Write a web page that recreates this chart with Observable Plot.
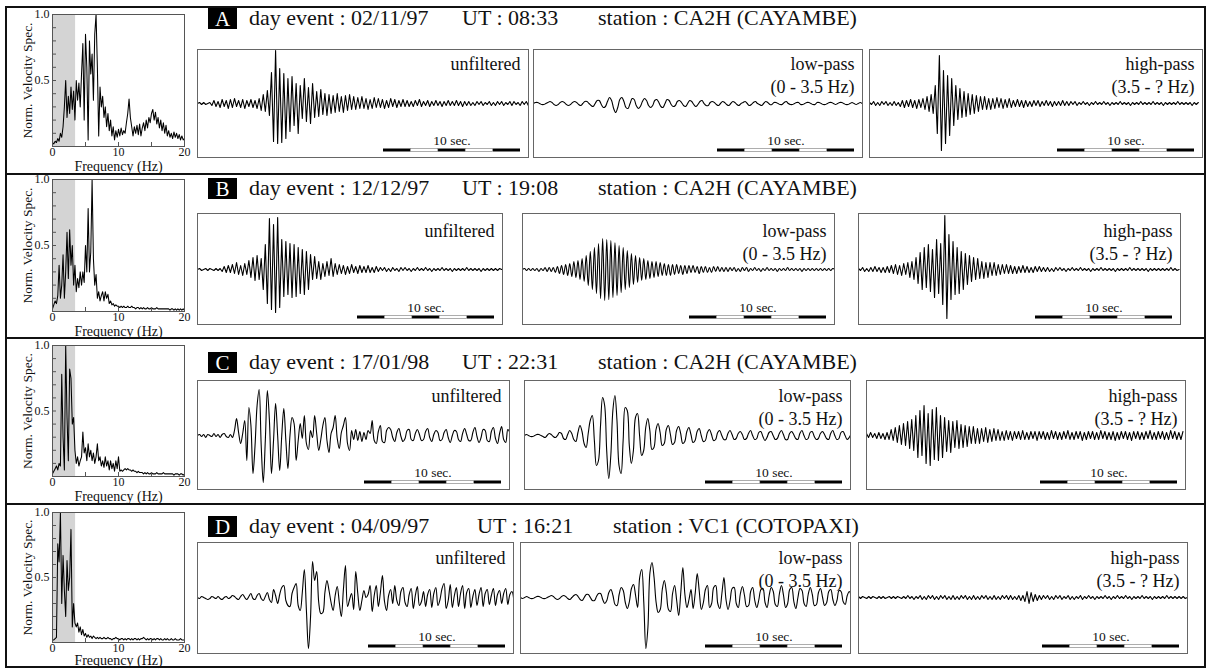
<!DOCTYPE html>
<html><head><meta charset="utf-8">
<script src="https://cdn.jsdelivr.net/npm/d3@7"></script>
<script src="https://cdn.jsdelivr.net/npm/@observablehq/plot@0.6"></script>
<style>
body{margin:0;background:#fff;}
#fig{position:relative;width:1207px;height:669px;overflow:hidden;font-family:"Liberation Serif","Times New Roman",serif;color:#111;}
.abs{position:absolute;}
.hline{position:absolute;background:#111;}
.lab{position:absolute;background:#000;color:#fff;text-align:center;font-size:21px;}
.htxt{position:absolute;font-size:22px;white-space:pre;}
svg{overflow:visible;}
</style></head><body><div id="fig"></div>
<script>
// ---------------- DATA ----------------
const eventLetters = ["A","B","C","D"];
const eventDays = ["02/11/97","12/12/97","17/01/98","04/09/97"];
const eventUT = ["08:33","19:08","22:31","16:21"];
const eventStations = ["CA2H (CAYAMBE)","CA2H (CAYAMBE)","CA2H (CAYAMBE)","VC1 (COTOPAXI)"];
const boxLabels = [["unfiltered"],["low-pass","(0 - 3.5 Hz)"],["high-pass","(3.5 - ? Hz)"]];

// spectra: normalized velocity spectrum in percent, sampled every specStep Hz from 0 to 20 Hz
const specStep = 0.2;
const specBand = [[0, 3.5]];
const specXTicks = [0, 10, 20];
const specXMinor = [5, 10, 15];
const specYTicks = [50, 100];
const specYMinor = [10,20,30,40,50,60,70,80,90];
const specA = [3,2,4,3,6,4,10,7,15,30,50,22,38,25,45,28,42,20,50,35,48,30,55,78,20,85,60,5,80,55,70,35,85,100,60,8,45,30,38,22,30,15,25,12,20,8,15,5,12,7,13,8,14,9,12,10,18,25,36,22,15,8,15,10,16,9,17,8,14,18,12,20,14,22,18,25,28,20,26,17,22,14,20,12,18,10,16,8,12,7,10,6,11,7,10,6,9,5,8,5,6];
const specB = [2,5,8,6,12,35,10,20,43,10,30,60,25,62,35,50,20,35,15,25,18,30,20,30,22,50,30,78,30,45,100,40,20,28,10,15,8,12,15,8,15,10,13,6,8,5,6,4,5,4,4,3,4,3,4,3,3,4,3,3,4,3,3,2,3,3,2,3,2,3,2,2,3,2,2,3,2,2,2,3,2,2,2,2,2,2,2,2,2,1,2,2,1,2,1,2,1,2,1,2,1];
const specC = [2,4,6,8,5,10,8,78,30,5,100,45,12,82,75,40,45,20,10,15,8,12,15,34,18,22,12,25,15,20,12,18,10,15,25,12,15,8,12,7,15,8,12,5,12,6,10,4,12,6,15,4,5,4,5,6,5,6,5,5,4,5,4,4,3,4,3,3,3,2,3,2,3,2,2,3,2,2,2,3,2,2,2,2,3,2,2,2,2,2,2,2,1,2,2,2,1,2,2,1,2];
const specD = [2,2,3,4,76,62,100,30,67,40,20,63,40,50,87,12,30,15,12,15,8,12,6,10,5,7,4,6,4,5,3,5,4,3,4,3,4,3,3,4,3,3,4,3,3,2,3,3,4,3,3,2,3,3,2,3,2,3,3,2,3,2,3,3,2,3,2,3,3,4,3,2,3,2,3,3,2,3,2,3,3,2,3,2,2,3,2,3,2,2,3,2,2,3,2,2,2,3,2,2,2];

// seismograms: ground velocity (relative counts), one sample every dt seconds
const dt = 0.15;
const scaleBarTimes = [0, 2, 4, 6, 8, 10];
const traceA1 = [0,1,-1,1,-1,0,1,
 -2,3,-3,2,-4,4,-3,3,-5,4,-4,5,-3,3,-4,4,-5,3,-3,4,-4,3,-5,5,
 -7,9,-8,13,-12,
 31,-38,53,-40,35,-39,30,-35,25,-28,27,-22,20,-30,
 18,-15,25,-18,16,-20,20,-14,
 12,-13,14,-11,10,-12,9,-10,8,-9,10,-8,7,-9,8,-7,9,-6,7,
 -6,6,-5,7,-5,5,-6,4,-5,6,-4,5,-4,4,-5,3,-4,5,-3,4,-4,3,-3,4,-3,
 3,-3,2,-3,3,-2,4,-3,2,-2,3,-3,2,-2,3,-2,2,-3,2,-2,3,-2,2,-2,3,-2,2,-3,2,-2,
 2,-2,1,-2,2,-1,2,-2,1,-1,2,-2,1,-2,2,-1,2,-2,1,-1,2,-2,2,-1,1,-2,2,-1,2,-2,1];
const traceA2 = [0,1,1,0,-1,-1,0,1,2,1,-1,-2,-1,1,2,1,-1,-2,-1,1,2,1,-1,-2,0,2,2,0,
 -2,-3,0,3,3,-1,-4,
 -3,2,6,3,-5,-9,-4,4,
 6,2,-4,-5,0,5,4,-2,-5,-3,
 2,5,3,-2,-4,-2,3,4,1,-3,-4,0,4,
 3,-1,-3,-2,2,3,1,-2,-3,0,3,2,-1,-3,-1,2,3,0,-2,-2,1,2,1,-1,-2,
 0,2,1,-1,-2,0,2,1,-1,-2,0,1,2,0,-2,-1,1,2,0,-1,-2,0,2,1,-1,-1,1,1,0,-1,-1,1,2,0,-1,-1,0,1,1,-1,-1,0,1,1,0,-1,-1,1,1,0,-1,-1,0,1,1,0,-1,0,1,1,0,-1,-1,0,1,0,-1,0,1,0];
const traceA3 = [1,-1,2,-2,1,-2,2,-1,2,-2,1,-2,2,-2,1,
 -3,3,-4,3,-3,4,-4,3,-5,4,-4,5,-6,
 7,-8,9,-10,
 18,-30,48,-47,33,-40,28,-32,25,-22,18,
 -16,15,-14,12,-13,10,-11,9,-10,8,
 -8,7,-6,7,-6,5,-6,5,-5,6,-4,5,-5,4,-4,5,-4,3,
 -3,4,-3,3,-4,3,-3,2,-3,3,-2,3,-3,2,-2,3,-2,2,-3,2,-2,2,-2,3,-2,2,-2,2,-1,2,
 -2,1,-1,2,-1,1,-2,1,-1,2,-1,1,-1,2,-1,1,-2,1,-1,1,-1,2,-1,1,-1,1,-2,1,-1,1,-1,2,-1,1,-1,1,-1,2,-1,1,-1,1,-2,1,-1,1,-1,1,-1,2,-1,1,-1,1,-1,1,-2,1,-1,1];
const traceB1 = [0,1,-1,0,1,-1,1,0,-1,1,-1,1,
 -2,3,-3,4,-3,5,-4,7,-5,4,-6,6,-5,
 9,-8,12,-11,14,-10,11,
 -20,25,-34,
 51,-40,45,
 -43,52,-38,
 30,-27,28,-25,26,
 -28,25,-27,
 22,-24,20,-25,18,-20,15,
 -10,13,-9,8,-10,6,
 -7,8,-6,11,-7,6,-5,
 5,-4,4,-5,3,-4,5,-3,3,-4,4,-3,3,-3,4,-3,2,-3,3,
 -2,2,-1,2,-2,1,-2,2,-1,1,-2,2,-1,2,-1,1,-2,1,-1,2,-1,1,-1,2,-1,1,-2,1,-1,1,-1,2,-1,1,-1,1,-2,1,-1,1,-1,1,-1,2,-1,1,-1,1,-1,1,-2,1,-1,1,-1,1,-1,1,-1,1,0];
const traceB2 = [0,1,-1,1,-1,1,-1,1,-2,1,-1,2,-2,2,-2,2,
 -3,3,-4,4,-5,5,-6,6,-7,8,-8,9,-10,11,-12,
 14,-16,18,-20,22,-24,26,
 -29,31,-31,30,-30,29,-28,27,-26,
 24,-23,22,-20,19,-18,16,-15,14,-13,
 12,-11,11,-10,9,-9,8,-8,8,-7,
 7,-6,6,-6,5,-6,5,-5,5,-4,4,-5,4,-4,4,-3,4,-3,3,-4,3,-3,3,-3,2,-3,3,-2,3,
 -2,2,-2,2,-2,2,-1,2,-2,1,-2,2,-1,2,-2,1,-1,2,-1,1,-2,1,-1,2,-1,1,-1,1,-2,1,-1,1,-1,2,-1,1,-1,1,-1,1,-2,1,-1,1,-1,1,-1,1,-1,1,-1,1,-1,1,-1,1,0];
const traceB3 = [1,-1,2,-2,1,-2,2,-2,3,-2,2,-3,2,-3,3,-3,
 4,-4,5,-5,4,-6,6,-5,7,-8,8,-10,12,
 -14,17,-20,22,-18,25,-22,20,-28,30,-24,26,-35,
 54,-49,35,
 -30,28,-25,22,-24,18,-20,16,-15,14,
 -12,12,-10,11,-9,8,-9,7,-8,7,-6,7,-6,5,
 -5,5,-4,5,-4,4,-4,3,-4,3,-3,4,-3,3,-3,2,-3,3,-2,3,-2,2,
 -2,2,-2,1,-2,2,-1,2,-1,1,-2,1,-1,2,-1,1,-1,2,-1,1,-1,1,-2,1,-1,1,-1,2,-1,1,-1,1,-1,1,-2,1,-1,1,-1,1,-1,2,-1,1,-1,1,-1,1,-1,1,-2,1,-1,1,-1,1,-1,1,-1,1,-1,2,-1,1,-1,0];
const traceC1 = [0,1,-1,1,-2,1,0,-1,2,-1,1,-2,1,2,-1,-2,1,
 -2,5,17,3,-8,2,
 15,-25,28,10,-38,-10,30,46,-10,-47,-5,45,15,-38,-5,32,0,-35,0,27,-5,-33,0,18,12,-25,-5,12,-3,20,-8,-14,5,-2,
 20,2,-15,-4,10,18,-5,-17,2,8,20,-3,-13,3,10,18,-8,-15,5,-4,6,-5,4,-6,3,-4,5,2,15,-5,-8,4,10,-6,-7,5,8,
 6,-2,-6,3,7,-1,-6,-3,5,6,-4,-5,2,6,1,-5,-4,4,7,-2,-6,1,5,3,-5,-4,3,6,-2,-7,0,5,4,-4,-6,2,7,1,-5,-5,3,8,-1,-7,-2,6,5,-5,-6,4,8,-3,-8,2,9,-4,-7,6,3];
const traceC2 = [0,1,0,-1,-1,0,1,1,0,-1,-2,0,2,1,-1,-2,0,
 3,2,-3,-4,1,5,2,-4,
 -6,3,10,4,-8,-12,2,
 15,20,-5,-30,-25,10,38,30,-15,-43,-20,25,40,15,-30,-38,-5,
 28,25,-10,-28,-15,18,22,0,-20,-15,8,17,5,-14,-12,6,12,
 3,-10,-8,6,10,1,-9,-7,5,9,2,-8,-6,4,8,1,-7,-5,4,7,0,-6,-5,3,6,1,-5,-4,3,
 5,0,-4,-4,2,5,1,-4,-3,2,4,1,-4,-3,2,5,0,-4,-3,3,4,-1,-5,-2,3,4,0,-4,-3,2,5,1,-4,-4,2,4,1,-3,-4,2,5,0,-4,-3,3,4,-1,-4,-3,2,4,1,-3,-4,2,5,0,-4,-3,3,4,0,-4,-2,2];
const traceC3 = [2,-2,3,-2,2,-3,3,-3,2,-4,3,-4,
 6,-5,8,-7,10,-9,12,-10,14,-13,16,-15,
 20,-22,25,-20,30,-28,22,-30,26,-24,28,-25,20,-22,
 18,-16,15,-17,14,-12,15,-13,11,-12,10,-11,9,
 -8,9,-8,7,-8,7,-6,8,-7,6,-6,7,-5,6,
 -5,4,-5,5,-4,4,-5,4,-3,4,-4,5,-4,3,-4,4,-3,4,-5,4,-3,4,-4,3,-4,5,-3,4,-4,3,-4,4,-3,5,-4,3,-4,4,-3,4,-5,3,-4,4,-3,4,-4,3,-4,5,-3,4,-4,3,-4,4,-5,3,-4,4,-3,4,-4,3,-5,4,-3,4,-4,3,-4,4,-3,5,-4,3,-4,4,-3,4,-4,3,-4,5,-3,4,-4,3,-4,4];
const traceD1 = [0,-1,1,0,-1,-2,-1,1,0,-1,1,-1,-2,0,1,-1,0,2,1,-1,-2,1,3,0,-2,1,4,-1,-2,2,4,-1,-3,1,5,
 -2,-5,8,2,-6,3,10,12,-3,-8,-9,4,10,14,-8,-13,5,
 28,-13,-51,-20,36,17,26,-5,
 -16,-15,5,17,7,-5,-13,2,11,-5,-19,8,32,-9,-2,4,-12,
 26,4,-13,-3,7,0,3,12,-14,2,12,-9,5,22,-4,-13,2,
 8,-6,12,-3,-8,6,10,-5,-9,3,9,-11,2,11,-8,-4,6,-9,3,8,-10,4,10,-8,-2,9,14,-11,-3,13,-10,2,10,-9,4,12,-11,5,9,-10,1,8,-8,3,10,-9,4,8,-7,2,9,-8,3,7,-6,4,9,-7,3,6,-4];
const traceD2 = [0,-1,0,1,0,-1,-1,0,1,1,0,-1,-1,0,1,2,1,-1,-2,-1,1,2,1,-1,-2,0,2,3,1,-2,-3,0,3,3,0,-3,-3,1,4,
 4,-2,-6,-3,5,8,2,-7,-8,3,10,7,-5,-11,-4,9,13,2,-10,
 20,28,-5,-51,-30,25,35,20,-5,
 -15,-12,8,17,5,-12,-14,4,12,-3,-18,5,30,3,-10,-2,8,
 -11,4,24,6,-12,-5,8,12,-10,-6,10,12,-6,-11,4,20,-2,
 -12,-3,9,10,-6,-10,4,11,2,-9,-8,6,10,-3,-10,-2,8,9,-5,-10,2,10,6,-7,-9,4,12,2,-10,-6,8,10,-4,-11,0,9,7,-6,-9,3,10,3,-8,-7,5,9,0,-8,-5,6,8,-2,-8,-3,7,6,-4,-7,2,6,1];
const traceD3 = [1,-1,1,0,-1,1,-1,1,0,-1,1,-1,1,-1,0,1,-1,1,-1,1,0,-1,1,-1,2,-1,1,-2,1,-1,2,
 -2,1,-2,2,-1,2,-2,1,-2,2,-1,2,-2,1,-2,2,-2,1,-2,2,-1,2,-2,1,-2,2,-2,1,-2,2,-1,2,-2,1,-2,2,-2,1,-2,2,-1,2,-2,2,-2,1,-2,2,-3,2,
 -4,6,-6,5,-4,3,-3,
 2,-2,2,-1,2,-2,1,-2,2,-1,2,-2,1,-1,2,-2,1,-2,1,-1,2,-2,1,-1,2,-1,1,-2,1,-1,1,-1,2,-1,1,-2,1,-1,2,-1,1,-1,2,-1,1,-2,1,-1,1,-1,2,-1,1,-1,1,-2,1,-1,1,-1,1,-1,2,-1,1,-1,1,-1,1,-1,1,-1,0];

const spectra = [specA, specB, specC, specD];
const traces = [[traceA1, traceA2, traceA3],[traceB1, traceB2, traceB3],[traceC1, traceC2, traceC3],[traceD1, traceD2, traceD3]];

// ---------------- LAYOUT ----------------
const pxPerSec = 13.7;
const FONT = "'Liberation Serif','Times New Roman',serif";
const rows = [
  {specTop:14, specH:132, headY:18, utX:462, stX:598, boxTop:49, boxH:108, base:54, labY:15, freqDy:20, boxes:[[197,528],[533,862],[869,1202]]},
  {specTop:179, specH:132, headY:188, utX:462, stX:598, boxTop:213, boxH:111, base:56, labY:18, freqDy:20, boxes:[[197,502],[522,834],[858,1180]]},
  {specTop:345, specH:131, headY:362, utX:462, stX:598, boxTop:380, boxH:109, base:55, labY:16, freqDy:20, boxes:[[197,509],[524,850],[866,1185]]},
  {specTop:512, specH:130, headY:526, utX:477, stX:613, boxTop:542, boxH:111, base:55, labY:16, freqDy:18, boxes:[[197,513],[520,850],[858,1187]]}
];
const curves = [["linear","catmull-rom","linear"],["linear","catmull-rom","linear"],["catmull-rom","catmull-rom","linear"],["catmull-rom","catmull-rom","linear"]];

const fig = document.getElementById("fig");
function place(node, x, y) {
  const d = document.createElement("div");
  d.className = "abs"; d.style.left = x + "px"; d.style.top = y + "px";
  d.appendChild(node); fig.appendChild(d); return d;
}
const baseStyle = {background:"transparent", overflow:"visible", fontFamily: FONT, fontSize:"12px", color:"#111"};

function spectrumPlot(values, r) {
  const data = values.map((v, i) => ({f: i * specStep, v}));
  const W = 196, mL = 52, mR = 12;
  return Plot.plot({
    width: W, height: r.specH + 14 + 34,
    marginLeft: mL, marginRight: mR, marginTop: 14, marginBottom: 34,
    style: baseStyle,
    x: {domain: [0, 20]}, y: {domain: [0, 100]},
    marks: [
      Plot.rect(specBand, {x1: d => d[0], x2: d => d[1], fill: "#d4d4d4"}),
      Plot.line(data, {x: "f", y: "v", stroke: "#000", strokeWidth: 1.05, clip: true}),
      Plot.frame({stroke: "#555"}),
      Plot.tickY(specYMinor, {y: d => d, insetRight: (W - mL - mR) - 4, stroke: "#555"}),
      Plot.tickX(specXMinor, {x: d => d, insetTop: r.specH - 4, stroke: "#555"}),
      Plot.axisY(specYTicks, {tickSize: 0, tickPadding: 3, tickFormat: d => (d / 100).toFixed(1), fontSize: 12, label: null}),
      Plot.axisX(specXTicks, {tickSize: 0, tickPadding: 1, fontSize: 12, label: null}),
      Plot.text(["Norm. Velocity Spec."], {frameAnchor: "left", textAnchor: "middle", lineAnchor: "middle", rotate: -90, dx: -25, fontSize: 13.5}),
      Plot.text(["Frequency (Hz)"], {frameAnchor: "bottom", textAnchor: "middle", lineAnchor: "middle", dy: r.freqDy, fontSize: 14})
    ]
  });
}

function tracePlot(values, r, j, curve) {
  const [x0, x1] = r.boxes[j];
  const W = x1 - x0, H = r.boxH;
  const T = W / pxPerSec;
  const data = values.map((v, i) => ({t: i * dt, v}));
  const barEnd = T - 8 / pxPerSec, barStart = barEnd - 10;
  const segs = scaleBarTimes.slice(0, -1).map((t, i) => ({t0: barStart + t, t1: barStart + scaleBarTimes[i + 1], k: i % 2}));
  const lab = boxLabels[j];
  const marks = [
    Plot.line(data, {x: "t", y: "v", stroke: "#000", strokeWidth: 1.1, curve, clip: true}),
    Plot.frame({stroke: "#666"}),
    Plot.rect(segs.filter(s => s.k === 0), {x1: "t0", x2: "t1", insetTop: H - 8.5, insetBottom: 5.5, fill: "#000"}),
    Plot.rect(segs.filter(s => s.k === 1), {x1: "t0", x2: "t1", insetTop: H - 8.5, insetBottom: 5.5, fill: "#fff", stroke: "#777", strokeWidth: 0.6}),
    Plot.text(["10 sec."], {x: barStart + 5, frameAnchor: "bottom", lineAnchor: "middle", dy: -17, fontSize: 13.5, fill: "#111"})
  ];
  lab.forEach((s, k) => marks.push(Plot.text([s], {frameAnchor: "top-right", textAnchor: "end", lineAnchor: "middle", dx: -8, dy: r.labY + 23 * k, fontSize: 18, fill: "#111"})));
  return Plot.plot({
    width: W, height: H, margin: 0, style: baseStyle,
    x: {domain: [0, T], axis: null},
    y: {domain: [-(H - r.base), r.base], axis: null},
    marks
  });
}

rows.forEach((r, i) => {
  place(spectrumPlot(spectra[i], r), 0, r.specTop - 14);
  r.boxes.forEach((b, j) => place(tracePlot(traces[i][j], r, j, curves[i][j]), b[0], r.boxTop));
  // header
  const L = document.createElement("div");
  L.className = "lab"; L.textContent = eventLetters[i];
  Object.assign(L.style, {left: "208px", top: (r.headY - 10.5) + "px", width: "29px", height: "21px", lineHeight: "22px"});
  fig.appendChild(L);
  [[249, "day event : " + eventDays[i]], [r.utX, "UT : " + eventUT[i]], [r.stX, "station : " + eventStations[i]]].forEach(([x, t]) => {
    const d = document.createElement("div");
    d.className = "htxt"; d.textContent = t;
    Object.assign(d.style, {left: x + "px", top: (r.headY - 13) + "px", lineHeight: "26px"});
    fig.appendChild(d);
  });
});

// figure frame and row separators
function bar(x, y, w, h) { const d = document.createElement("div"); d.className = "hline"; Object.assign(d.style, {left: x + "px", top: y + "px", width: w + "px", height: h + "px"}); fig.appendChild(d); }
bar(5, 6, 1201, 2); bar(5, 666, 1201, 2); bar(5, 6, 2, 662); bar(1204, 6, 2, 662);
[173, 337, 503].forEach(y => bar(5, y, 1201, 2));
</script></body></html>
